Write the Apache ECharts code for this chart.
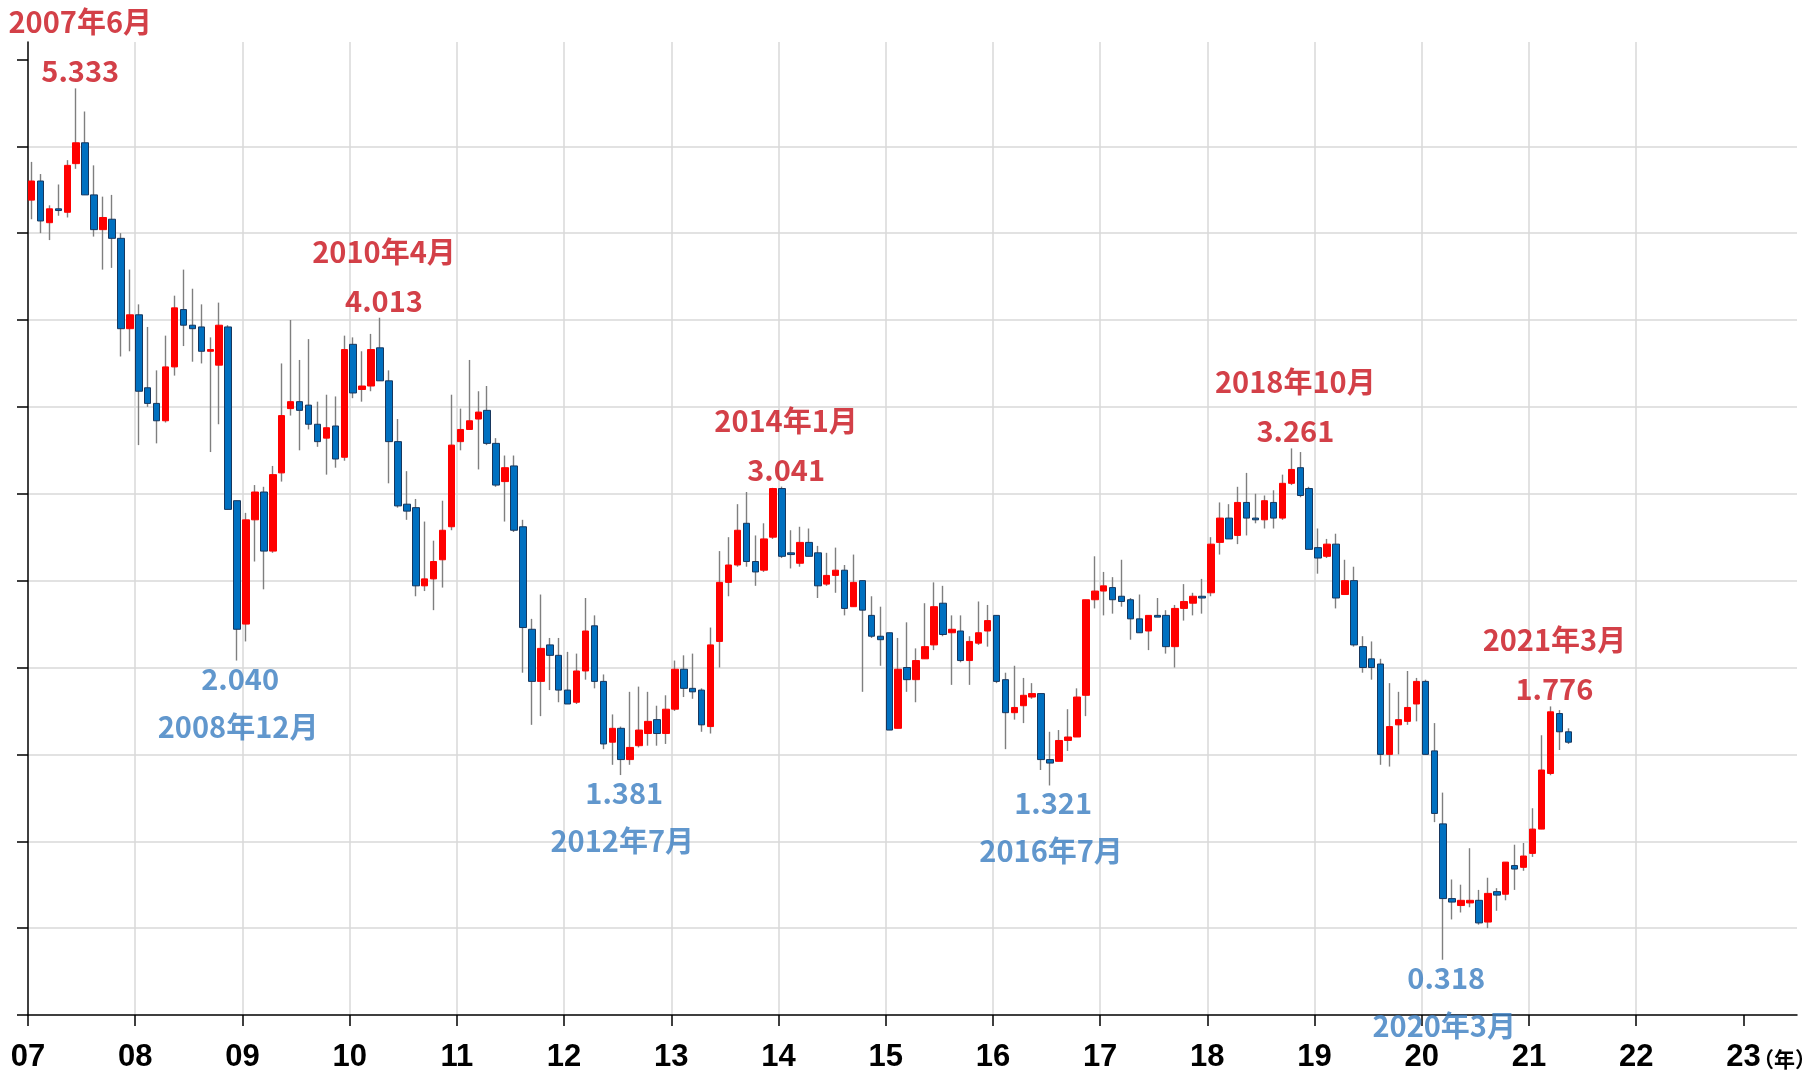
<!DOCTYPE html>
<html>
<head>
<meta charset="utf-8">
<title>月足チャート</title>
<script src="https://cdn.jsdelivr.net/npm/echarts@6/dist/echarts.min.js"></script>
<style>
html, body { margin: 0; padding: 0; background: #fff; }
#chart { width: 1817px; height: 1073px; }
</style>
</head>
<body>
<div id="chart"></div>
<script>
// monthly candles, Jan 2007 .. May 2021 (index 0 = 2007/01)
const opens = [
  4.69, 4.80, 4.56, 4.64, 4.62, 4.90, 5.02, 4.72, 4.52, 4.58, 4.47, 3.95,
  4.03, 3.61, 3.52, 3.42, 3.73, 4.06, 3.97, 3.96, 3.82, 3.74, 3.96, 2.96,
  2.25, 2.85, 3.01, 2.67, 3.12, 3.49, 3.53, 3.51, 3.40, 3.32, 3.39, 3.21,
  3.86, 3.60, 3.62, 3.84, 3.65, 3.30, 2.94, 2.92, 2.47, 2.51, 2.62, 2.81,
  3.30, 3.37, 3.43, 3.48, 3.29, 3.07, 3.16, 2.81, 2.22, 1.92, 2.13, 2.07,
  1.87, 1.80, 1.98, 2.24, 1.92, 1.57, 1.65, 1.47, 1.55, 1.62, 1.70, 1.62,
  1.76, 1.99, 1.88, 1.87, 1.66, 2.15, 2.49, 2.59, 2.83, 2.61, 2.56, 2.75,
  3.03, 2.66, 2.60, 2.72, 2.66, 2.48, 2.53, 2.56, 2.35, 2.50, 2.30, 2.18,
  2.20, 1.65, 2.00, 1.93, 2.05, 2.13, 2.37, 2.20, 2.21, 2.04, 2.14, 2.21,
  2.30, 1.93, 1.74, 1.78, 1.83, 1.85, 1.47, 1.46, 1.58, 1.60, 1.84, 2.39,
  2.44, 2.46, 2.41, 2.39, 2.28, 2.21, 2.30, 2.30, 2.12, 2.34, 2.37, 2.41,
  2.43, 2.72, 2.86, 2.76, 2.95, 2.86, 2.85, 2.95, 2.86, 3.06, 3.15, 3.03,
  2.69, 2.64, 2.71, 2.42, 2.50, 2.12, 2.05, 2.02, 1.50, 1.67, 1.69, 1.79,
  1.92, 1.52, 1.10, 0.67, 0.63, 0.645, 0.66, 0.535, 0.71, 0.695, 0.86, 0.85,
  0.93, 1.07, 1.39, 1.735, 1.63
];
const closes = [
  4.80, 4.57, 4.64, 4.63, 4.89, 5.02, 4.72, 4.52, 4.59, 4.47, 3.95, 4.03,
  3.59, 3.52, 3.42, 3.73, 4.07, 3.97, 3.95, 3.82, 3.83, 3.97, 2.91, 2.22,
  2.85, 3.01, 2.67, 3.11, 3.45, 3.53, 3.48, 3.40, 3.30, 3.38, 3.20, 3.83,
  3.58, 3.62, 3.83, 3.65, 3.30, 2.93, 2.90, 2.47, 2.51, 2.61, 2.79, 3.28,
  3.37, 3.42, 3.47, 3.29, 3.05, 3.15, 2.79, 2.23, 1.92, 2.11, 2.07, 1.87,
  1.79, 1.98, 2.21, 1.92, 1.56, 1.65, 1.47, 1.54, 1.64, 1.69, 1.62, 1.76,
  1.99, 1.88, 1.86, 1.67, 2.13, 2.49, 2.59, 2.79, 2.61, 2.55, 2.74, 3.03,
  2.64, 2.65, 2.72, 2.64, 2.47, 2.53, 2.56, 2.34, 2.49, 2.33, 2.18, 2.16,
  1.64, 1.99, 1.93, 2.04, 2.12, 2.35, 2.19, 2.22, 2.04, 2.15, 2.20, 2.27,
  1.92, 1.74, 1.77, 1.84, 1.85, 1.47, 1.45, 1.58, 1.60, 1.83, 2.39, 2.44,
  2.47, 2.39, 2.38, 2.28, 2.20, 2.30, 2.29, 2.12, 2.34, 2.38, 2.41, 2.40,
  2.71, 2.86, 2.74, 2.95, 2.86, 2.85, 2.96, 2.86, 3.06, 3.14, 2.99, 2.68,
  2.63, 2.71, 2.40, 2.50, 2.13, 2.00, 2.00, 1.50, 1.66, 1.70, 1.77, 1.92,
  1.50, 1.16, 0.67, 0.65, 0.66, 0.66, 0.53, 0.70, 0.69, 0.88, 0.84, 0.915,
  1.07, 1.41, 1.745, 1.63, 1.57
];
const lows = [
  4.58, 4.50, 4.46, 4.60, 4.59, 4.87, 4.72, 4.48, 4.29, 4.30, 3.79, 3.82,
  3.28, 3.50, 3.29, 3.41, 3.68, 3.85, 3.76, 3.75, 3.24, 3.40, 2.91, 2.040,
  2.15, 2.61, 2.45, 2.66, 3.07, 3.45, 3.25, 3.37, 3.27, 3.11, 3.15, 3.19,
  3.55, 3.53, 3.59, 3.65, 3.06, 2.92, 2.85, 2.41, 2.44, 2.33, 2.46, 2.79,
  3.25, 3.37, 3.14, 3.28, 3.04, 2.84, 2.78, 1.97, 1.67, 1.72, 1.87, 1.80,
  1.79, 1.79, 1.93, 1.88, 1.53, 1.44, 1.381, 1.44, 1.54, 1.55, 1.55, 1.56,
  1.75, 1.83, 1.82, 1.63, 1.62, 2.00, 2.41, 2.58, 2.58, 2.47, 2.55, 2.74,
  2.63, 2.57, 2.58, 2.64, 2.40, 2.47, 2.43, 2.30, 2.35, 1.86, 2.17, 2.01,
  1.64, 1.65, 1.86, 1.80, 2.05, 2.10, 2.18, 1.90, 2.03, 1.90, 2.13, 2.12,
  1.91, 1.53, 1.70, 1.68, 1.82, 1.41, 1.321, 1.46, 1.52, 1.60, 1.72, 2.34,
  2.30, 2.31, 2.35, 2.16, 2.20, 2.10, 2.29, 2.08, 2.00, 2.27, 2.30, 2.31,
  2.41, 2.65, 2.74, 2.71, 2.76, 2.83, 2.80, 2.80, 2.85, 3.05, 2.98, 2.68,
  2.54, 2.63, 2.34, 2.42, 2.12, 1.97, 1.93, 1.44, 1.43, 1.50, 1.67, 1.69,
  1.50, 1.11, 0.318, 0.55, 0.59, 0.62, 0.52, 0.50, 0.60, 0.66, 0.72, 0.83,
  0.91, 1.07, 1.38, 1.525, 1.56
];
const highs = [
  4.91, 4.84, 4.66, 4.78, 4.92, 5.333, 5.20, 4.89, 4.71, 4.72, 4.50, 4.29,
  4.09, 3.96, 3.71, 3.91, 4.14, 4.29, 4.18, 4.09, 3.90, 4.10, 3.97, 2.96,
  2.89, 3.05, 3.04, 3.16, 3.75, 4.00, 3.77, 3.89, 3.53, 3.57, 3.56, 3.91,
  3.90, 3.82, 3.92, 4.013, 3.71, 3.43, 3.13, 2.97, 2.84, 2.73, 2.96, 3.57,
  3.49, 3.77, 3.59, 3.62, 3.32, 3.22, 3.22, 2.85, 2.28, 2.42, 2.17, 2.17,
  2.09, 2.08, 2.40, 2.30, 1.96, 1.73, 1.66, 1.86, 1.89, 1.86, 1.78, 1.84,
  2.04, 2.07, 2.08, 1.88, 2.23, 2.67, 2.75, 2.94, 3.01, 2.76, 2.83, 3.034,
  3.041, 2.79, 2.81, 2.80, 2.70, 2.66, 2.69, 2.59, 2.65, 2.50, 2.41, 2.35,
  2.20, 2.17, 2.26, 2.11, 2.37, 2.49, 2.47, 2.30, 2.30, 2.18, 2.38, 2.36,
  2.30, 1.97, 2.01, 1.94, 1.91, 1.85, 1.63, 1.64, 1.76, 1.88, 2.39, 2.64,
  2.55, 2.52, 2.62, 2.40, 2.42, 2.30, 2.40, 2.33, 2.36, 2.48, 2.43, 2.51,
  2.75, 2.95, 2.94, 3.04, 3.12, 3.00, 2.99, 3.02, 3.11, 3.261, 3.24, 3.04,
  2.80, 2.74, 2.77, 2.62, 2.58, 2.18, 2.15, 2.05, 1.91, 1.86, 1.98, 1.94,
  1.93, 1.68, 1.28, 0.78, 0.75, 0.96, 0.72, 0.79, 0.73, 0.88, 0.98, 0.99,
  1.19, 1.61, 1.776, 1.755, 1.65
];

const yearLabels = ['07', '08', '09', '10', '11', '12', '13', '14', '15', '16', '17', '18', '19', '20', '21', '22', '23'];
const yearTicks = [0, 12, 24, 36, 48, 60, 72, 84, 96, 108, 120, 132, 144, 156, 168, 180, 192];
const yTicks = [0, 0.5, 1, 1.5, 2, 2.5, 3, 3.5, 4, 4.5, 5, 5.5];

const peakIdx = [5, 39, 84, 141, 170];
const peakDates = ['2007年6月', '2010年4月', '2014年1月', '2018年10月', '2021年3月'];
const troughIdx = [23, 66, 114, 158];
const troughDates = ['2008年12月', '2012年7月', '2016年7月', '2020年3月'];

const xShift = 0.4;   // candle sits a bit right of the month start
const RED = '#ff0000';
const BLUE = '#0070c0';
const RED_TXT = '#c8101a';
const BLUE_TXT = '#3a7dc0';
const JP = "'Noto Sans CJK JP', sans-serif";

const wickData = opens.map((o, i) => [i + xShift, o, closes[i], lows[i], highs[i]]);
const bodyData = opens.map((o, i) => [i + xShift, o, closes[i], Math.min(o, closes[i]), Math.max(o, closes[i])]);

function labelSeries(idx, texts, values, offset, color) {
    return {
        type: 'scatter',
        silent: true,
        symbolSize: 1,
        itemStyle: { color: 'rgba(0,0,0,0)' },
        z: 10,
        data: idx.map((i, k) => [i + xShift, values[k]]),
        label: {
            show: true,
            position: 'inside',
            offset: offset,
            formatter: p => texts[p.dataIndex],
            color: color,
            fontSize: 29,
            fontWeight: 'bold',
            fontFamily: JP
        }
    };
}

const peakVals = peakIdx.map(i => highs[i]);
const troughVals = troughIdx.map(i => lows[i]);

var dom = document.getElementById('chart');
var myChart = echarts.init(dom);
var gridColor = '#d9d9d9';
var option = {
    animation: false,
    backgroundColor: '#ffffff',
    grid: { left: 28, right: 20, top: 42, bottom: 58, outerBoundsMode: 'none' },
    xAxis: {
        type: 'value',
        min: 0,
        max: 198,
        interval: 12,
        axisLine: { lineStyle: { color: '#000', width: 1.5 } },
        axisTick: { customValues: yearTicks, length: 11, lineStyle: { color: '#000', width: 1.5 } },
        axisLabel: {
            customValues: yearTicks,
            formatter: v => yearLabels[Math.round(v / 12)],
            margin: 27,
            fontSize: 31,
            fontWeight: 'bold',
            color: '#000',
            fontFamily: "'Liberation Sans', Arial, sans-serif"
        },
        splitLine: { show: true, showMinLine: false, showMaxLine: false, lineStyle: { color: gridColor, width: 1.5 } }
    },
    yAxis: {
        type: 'value',
        min: 0,
        max: 5.6,
        interval: 0.5,
        axisLine: { show: true, lineStyle: { color: '#000', width: 1.5 } },
        axisTick: { show: true, customValues: yTicks, length: 11, lineStyle: { color: '#000', width: 1.5 } },
        axisLabel: { show: false },
        splitLine: { show: true, showMinLine: false, showMaxLine: false, lineStyle: { color: gridColor, width: 1.5 } }
    },
    graphic: [{
        type: 'text',
        left: 1753,
        top: 1049,
        style: { text: '（年）', fontSize: 21, fontWeight: 'bold', fill: '#000', fontFamily: JP }
    }],
    series: [
        {
            // wicks only
            type: 'candlestick',
            silent: true,
            barWidth: 1,
            data: wickData,
            encode: { x: 0, y: [1, 2, 3, 4] },
            itemStyle: { color: '#7f7f7f', color0: '#7f7f7f', borderColor: '#7f7f7f', borderColor0: '#7f7f7f', borderWidth: 1.4 }
        },
        {
            // bodies
            type: 'candlestick',
            silent: true,
            barWidth: 7,
            data: bodyData,
            encode: { x: 0, y: [1, 2, 3, 4] },
            itemStyle: { color: RED, color0: BLUE, borderColor: RED, borderColor0: '#17375e', borderWidth: 1 }
        },
        labelSeries(peakIdx, peakVals.map(v => v.toFixed(3)), peakVals, [4, -17], RED_TXT),
        labelSeries(peakIdx, peakDates, peakVals, [4, -66], RED_TXT),
        labelSeries(troughIdx, troughVals.map(v => v.toFixed(3)), troughVals, [3, 18], BLUE_TXT),
        labelSeries(troughIdx, troughDates, troughVals, [1, 66], BLUE_TXT)
    ]
};
myChart.setOption(option);
</script>
</body>
</html>
